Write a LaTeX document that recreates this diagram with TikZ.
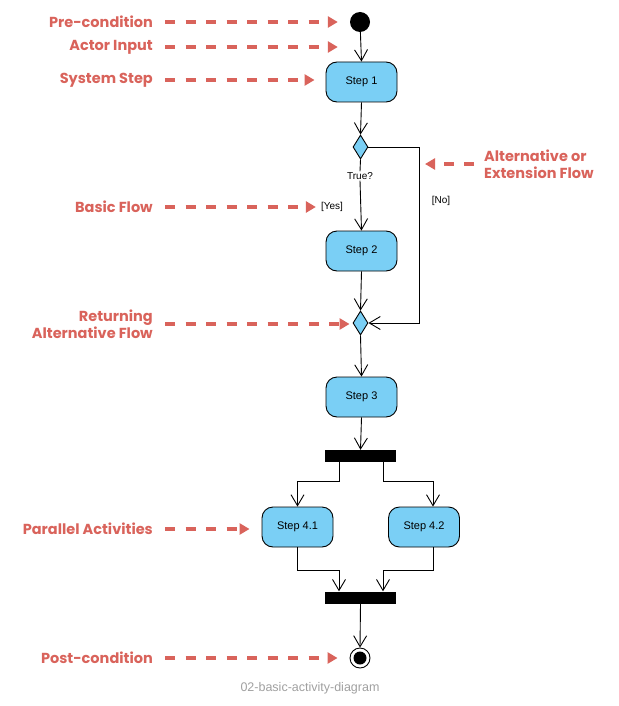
\documentclass[tikz,border=0pt]{standalone}
\usepackage{fontspec}
\setmainfont{Liberation Sans}
\newfontfamily\annfont{Poppins}
\usetikzlibrary{arrows.meta,shapes.geometric}
\definecolor{stepblue}{HTML}{7ACFF5}
\definecolor{annred}{HTML}{D9635B}
\definecolor{capgray}{HTML}{A0A0A0}
\begin{document}
\begin{tikzpicture}[x=1pt,y=-1pt,
  stepbox/.style={draw=black,line width=0.9pt,fill=stepblue,rounded corners=11pt,minimum width=71pt,minimum height=40pt,inner sep=0pt,font=\fontsize{11}{13}\selectfont},
  decision/.style={diamond,draw=black,line width=0.9pt,fill=stepblue,minimum width=15pt,minimum height=24pt,inner sep=0pt},
  bar/.style={rectangle,fill=black,minimum width=71pt,minimum height=12pt,inner sep=0pt},
  flow/.style={draw=black,line width=0.9pt,-{Straight Barb[length=11pt,width=13pt,line width=0.9pt]}},
  plain/.style={draw=black,line width=0.9pt},
  guard/.style={font=\fontsize{10}{12}\selectfont,inner sep=1pt},
  ann/.style={text=annred,font=\annfont\bfseries\fontsize{14.5}{17.5}\selectfont,inner sep=0pt},
  annarrow/.style={draw=annred,line width=3.5pt,dash pattern=on 10pt off 10.5pt,-{Triangle[length=10pt,width=11pt]}}
]
\useasboundingbox (0,0) rectangle (618,706);
% activity nodes
\node[circle,fill=black,minimum size=20pt,inner sep=0pt] (init) at (360,22) {};
\node[stepbox] (s1) at (361.5,82) {Step 1};
\node[decision] (d1) at (360.5,147) {};
\node[guard] (true) at (360,176) {True?};
\node[stepbox] (s2) at (361.5,251) {Step 2};
\node[decision] (d2) at (360.5,323) {};
\node[stepbox] (s3) at (361.5,397) {Step 3};
\node[bar] (fork) at (360.5,456) {};
\node[stepbox] (s41) at (297.5,527) {Step 4.1};
\node[stepbox] (s42) at (424,527) {Step 4.2};
\node[bar] (join) at (360.5,597.5) {};
\node[circle,draw=black,line width=0.9pt,fill=white,minimum size=20pt,inner sep=0pt] (final) at (360,658) {};
\node[circle,fill=black,minimum size=13pt,inner sep=0pt] (finalin) at (360,658) {};
\coordinate (brk) at (419,147);
% guards
\node[guard] (yes) at (332,207) {[Yes]};
\node[guard] (no) at (441,201) {[No]};
% flows
\draw[flow] (init) -- (s1.north);
\draw[flow] (s1.south) -- (d1.north);
\draw[plain] (d1.south) -- (true.north);
\draw[flow] (true.south) -- (s2.north);
\draw[plain] (d1.east) -- (brk);
\draw[flow] (brk) |- (d2.east);
\draw[flow] (s2.south) -- (d2.north);
\draw[flow] (d2.south) -- (s3.north);
\draw[flow] (s3.south) -- (fork.north);
\draw[flow] ([xshift=-21.5pt]fork.south) -- ++(0,19) -| (s41.north);
\draw[flow] ([xshift=22.5pt]fork.south) -- ++(0,19) -| ([xshift=9pt]s42.north);
\draw[flow] (s41.south) -- ++(0,23) -| ([xshift=-21.5pt]join.north);
\draw[flow] ([xshift=9pt]s42.south) -- ++(0,23) -| ([xshift=22.5pt]join.north);
\draw[flow] (join.south) -- (final.north);
% annotations
\node[ann,anchor=east] (pre) at (153,22) {Pre-condition};
\node[ann,anchor=east] (actor) at (153,47) {Actor Input};
\node[ann,anchor=east] (sys) at (153,80) {System Step};
\node[ann,anchor=west,align=left] (alt) at (484,164) {Alternative or\\Extension Flow};
\node[ann,anchor=east] (basic) at (153,207) {Basic Flow};
\node[ann,anchor=east,align=right] (ret) at (153,324) {Returning\\Alternative Flow};
\node[ann,anchor=east] (par) at (153,529) {Parallel Activities};
\node[ann,anchor=east] (post) at (153,658) {Post-condition};
\draw[annarrow,shorten <=12pt,shorten >=12pt] (pre.east) -- (pre.east -| init.west);
\draw[annarrow,shorten <=12pt,shorten >=12pt] (actor.east) -- (actor.east -| init.west);
\draw[annarrow,shorten <=12pt,shorten >=11pt] (sys.east) -- (sys.east -| s1.west);
\draw[annarrow,shorten <=10pt,shorten >=6pt] (alt.west) -- (alt.west -| brk);
\draw[annarrow,shorten <=12pt,shorten >=4pt] (basic.east) -- (yes.west);
\draw[annarrow,shorten <=12pt,shorten >=3pt] (ret.east) -- (ret.east -| d2.west);
\draw[annarrow,shorten <=12pt,shorten >=12pt] (par.east) -- (par.east -| s41.west);
\draw[annarrow,shorten <=12pt,shorten >=12pt] (post.east) -- (final.west);
% caption
\node[text=capgray,font=\fontsize{12.5}{15}\selectfont] (cap) at (310,688) {02-basic-activity-diagram};
\end{tikzpicture}
\end{document}
